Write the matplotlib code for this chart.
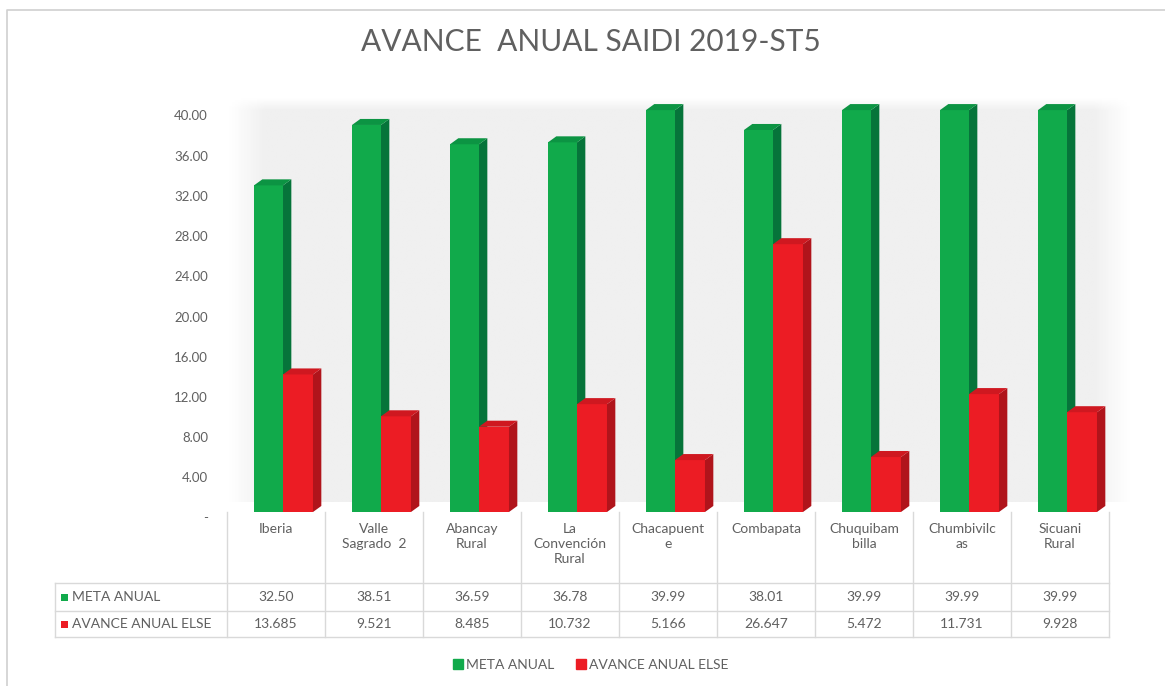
import numpy as np
import matplotlib.pyplot as plt
from matplotlib.patches import Polygon, Rectangle
from matplotlib.lines import Line2D
from matplotlib.transforms import ScaledTranslation

plt.rcParams['font.family'] = ['Lato', 'DejaVu Sans']

# Data
categorias = ['Iberia', 'Valle\nSagrado  2', 'Abancay\nRural', 'La\nConvención\nRural',
              'Chacapuent\ne', 'Combapata', 'Chuquibam\nbilla', 'Chumbivilc\nas',
              'Sicuani\nRural']
meta_anual = [32.50, 38.51, 36.59, 36.78, 39.99, 38.01, 39.99, 39.99, 39.99]
avance_anual = [13.685, 9.521, 8.485, 10.732, 5.166, 26.647, 5.472, 11.731, 9.928]
y_ticks = [0, 4, 8, 12, 16, 20, 24, 28, 32, 36, 40]
y_tick_labels = ['-', '4.00', '8.00', '12.00', '16.00', '20.00', '24.00', '28.00',
                 '32.00', '36.00', '40.00']
series = ['META ANUAL', 'AVANCE ANUAL ELSE']

W, H = 1165, 686
GRAY = '#606060'
LINE = '#d9d9d9'
GREEN = ('#11aa4b', '#06743a', '#0c9443')   # front, side, top
RED = ('#ec1c24', '#b0141b', '#cf1820')


def box(x0, y0, x1, y1):
    return [x0 / W, 1 - y1 / H, (x1 - x0) / W, (y1 - y0) / H]


fig = plt.figure(figsize=(W / 100, H / 100), dpi=100)

# pixel canvas for frame, title, table and legend
cv = fig.add_axes([0, 0, 1, 1], zorder=0)
cv.set_xlim(0, W)
cv.set_ylim(H, 0)
cv.axis('off')
cv.plot([7, 7, W + 5], [H + 5, 10, 10], color='#d0d0d0', lw=1.2)
cv.text(591, 42, 'AVANCE  ANUAL SAIDI 2019-ST5', ha='center', va='center',
        fontsize=21.5, color=GRAY)

# bar area
ax = fig.add_axes(box(227, 97, 1132, 512), zorder=1)
ymax = 415 / 10.05
xmax = -0.5 + 905 / 98
ax.set_xlim(-0.5, xmax)
ax.set_ylim(0, ymax)
ax.axis('off')

# back wall: light gray fading to white toward the edges
gx = np.linspace(0, 1, 300)
gy = np.linspace(0, 1, 200)
fx = np.clip(np.minimum(gx, 1 - gx) / 0.04, 0, 1)
fy = np.clip((1 - gy) / 0.03, 0, 1)
fade = np.outer(fy, fx)
wall = 1 - 0.06 * fade
ax.imshow(wall[::-1], extent=(-0.5, xmax, 1.0, ymax), cmap='gray', vmin=0, vmax=1,
          aspect='auto', zorder=0, interpolation='bilinear')

dx, dy = 0.085, 0.6
x = np.arange(len(categorias))


def bar3d(x0, w, h, cols, z):
    front, side, top = cols
    ax.bar(x0, h, width=w, align='edge', color=front, zorder=z, linewidth=0)
    ax.add_patch(Polygon([(x0 + w, 0), (x0 + w + dx, dy), (x0 + w + dx, h + dy),
                          (x0 + w, h)], closed=True, color=side, lw=0, zorder=z))
    ax.add_patch(Polygon([(x0, h), (x0 + dx, h + dy), (x0 + w + dx, h + dy),
                          (x0 + w, h)], closed=True, color=top, lw=0, zorder=z))


for i in x:
    bar3d(i - 0.2245, 0.296, meta_anual[i], GREEN, 2)
    bar3d(i + 0.0715, 0.306, avance_anual[i], RED, 3)

# y tick labels sit on the wall, slightly below the bar scale
off = ScaledTranslation(0, -6.5 / 100, fig.dpi_scale_trans)
for v, lab in zip(y_ticks, y_tick_labels):
    ax.text(-19 / 905, v, lab, transform=ax.get_yaxis_transform() + off,
            ha='right', va='center', fontsize=9.5, color=GRAY)

# data table
col0, colw = 227, 98
top_y, r1, r2, r3 = 512, 583, 611, 637
left = 55
ncol = len(categorias)
right = col0 + colw * ncol
for k in range(ncol + 1):
    cx = col0 + colw * k
    cv.plot([cx, cx], [top_y, r3], color=LINE, lw=1)
cv.plot([left, left], [r1, r3], color=LINE, lw=1)
for yy in (r1, r2, r3):
    cv.plot([left, right], [yy, yy], color=LINE, lw=1)

for i, name in enumerate(categorias):
    cx = col0 + colw * (i + 0.5)
    cv.text(cx, 523, name, ha='center', va='top', fontsize=10, color=GRAY,
            linespacing=1.3, multialignment='center')
    cv.text(cx, (r1 + r2) / 2, f'{meta_anual[i]:.2f}', ha='center', va='center',
            fontsize=10, color=GRAY)
    cv.text(cx, (r2 + r3) / 2, f'{avance_anual[i]:.3f}', ha='center', va='center',
            fontsize=10, color=GRAY)

for (y0, y1), name, c in zip([(r1, r2), (r2, r3)], series, [GREEN[0], RED[0]]):
    ym = (y0 + y1) / 2
    cv.add_patch(Rectangle((61, ym - 3.5), 7, 7, color=c, lw=0))
    cv.text(72, ym, name, ha='left', va='center', fontsize=10, color=GRAY)

# legend
handles = [Line2D([], [], marker='s', ls='', color=c, markersize=6.5)
           for c in (GREEN[0], RED[0])]
fig.legend(handles, series, loc='center', bbox_to_anchor=(590 / W, 1 - 665 / H),
           ncol=2, frameon=False, fontsize=10, labelcolor=GRAY, handletextpad=0.1,
           columnspacing=1.5, handlelength=0.9)

fig.savefig('out.png', dpi=100)
